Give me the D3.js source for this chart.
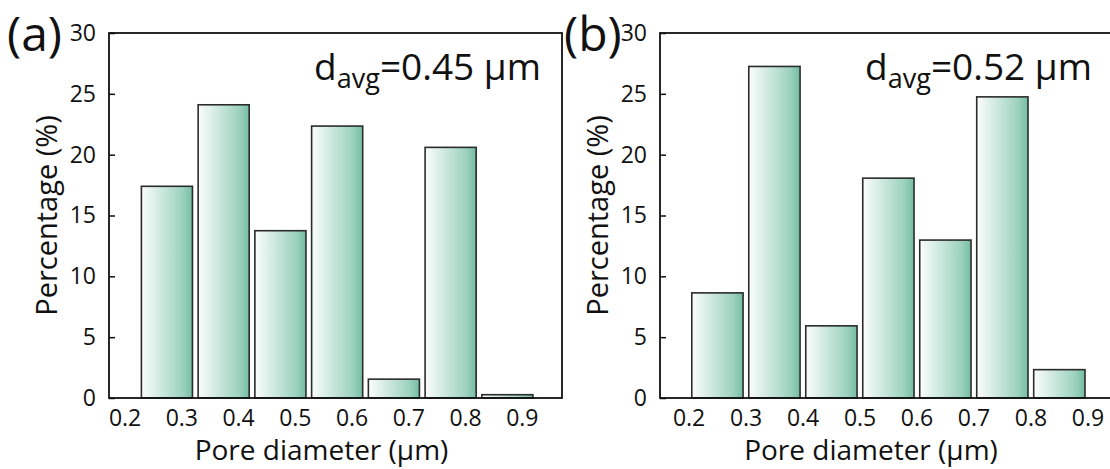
<!DOCTYPE html>
<html>
<head>
<meta charset="utf-8">
<script src="https://cdn.jsdelivr.net/npm/d3@7"></script>
<style>
  body { margin: 0; background: #fff; }
  svg { display: block; font-family: "Open Sans", "Noto Sans", sans-serif; }
</style>
</head>
<body>
<svg id="chart" width="1110" height="469"></svg>
<script>
// pore size histograms, two samples
var tickLabels = [0.2, 0.3, 0.4, 0.5, 0.6, 0.7, 0.8, 0.9];
var binStarts = [0.2, 0.3, 0.4, 0.5, 0.6, 0.7, 0.8];
var pctA = [17.4, 24.1, 13.75, 22.35, 1.55, 20.6, 0.27];
var pctB = [8.64, 27.25, 5.93, 18.07, 12.98, 24.75, 2.33];
var yTicks = [0, 5, 10, 15, 20, 25, 30];
var panelNames = ["(a)", "(b)"];
var avgValues = ["0.45", "0.52"];

var svg = d3.select("#chart");

var defs = svg.append("defs");
var grad = defs.append("linearGradient")
  .attr("id", "barfill")
  .attr("x1", "0%").attr("x2", "100%")
  .attr("y1", "0%").attr("y2", "0%");
grad.append("stop").attr("offset", "0%").attr("stop-color", "#fbfdfc");
grad.append("stop").attr("offset", "80%").attr("stop-color", "#9dd2bf");
grad.append("stop").attr("offset", "100%").attr("stop-color", "#74bda3");

var plotTop = 33, plotBottom = 398;

var y = d3.scaleLinear().domain([0, 30]).range([plotBottom, plotTop]);

// panel layout (pixels), kept apart from the data
var panels = [
  { name: panelNames[0], avg: avgValues[0], values: pctA,
    left: 109, right: 562, x02: 124.6, x09: 521.8, shift: 0.0296, nameX: 7 },
  { name: panelNames[1], avg: avgValues[1], values: pctB,
    left: 660, right: 1114, x02: 688.6, x09: 1087.5, shift: 0.0056, nameX: 564 }
];

panels.forEach(function(p) {
  var x = d3.scaleLinear().domain([0.2, 0.9]).range([p.x02, p.x09]);
  var g = svg.append("g");

  // bars
  g.selectAll("rect.bar")
    .data(binStarts.map(function(s, i) { return { s: s, v: p.values[i] }; }))
    .enter()
    .append("rect")
    .attr("class", "bar")
    .attr("x", function(d) { return x(d.s + p.shift); })
    .attr("width", function(d) { return x(d.s + p.shift + 0.09) - x(d.s + p.shift); })
    .attr("y", function(d) { return y(d.v); })
    .attr("height", function(d) { return y(0) - y(d.v); })
    .attr("fill", "url(#barfill)")
    .attr("stroke", "#2b2b2b")
    .attr("stroke-width", 1.6);

  // frame
  g.append("rect")
    .attr("x", p.left).attr("y", plotTop)
    .attr("width", p.right - p.left).attr("height", plotBottom - plotTop)
    .attr("fill", "none")
    .attr("stroke", "#111")
    .attr("stroke-width", 1.8);

  // y axis
  var ya = g.append("g")
    .attr("transform", "translate(" + p.left + ",0)")
    .call(d3.axisLeft(y).tickValues(yTicks).tickSize(-6).tickPadding(13).tickFormat(d3.format("d")));
  ya.select(".domain").remove();
  ya.selectAll("line").attr("stroke", "#111").attr("stroke-width", 1.5);
  ya.selectAll("text").attr("font-size", 23).attr("fill", "#111")
    .attr("font-family", "Open Sans");

  // x axis (labels only)
  var xa = g.append("g")
    .attr("transform", "translate(0," + plotBottom + ")")
    .call(d3.axisBottom(x).tickValues(tickLabels).tickSize(0).tickPadding(12).tickFormat(d3.format(".1f")));
  xa.select(".domain").remove();
  xa.selectAll("text").attr("font-size", 23).attr("fill", "#111")
    .attr("font-family", "Open Sans");

  // axis titles
  g.append("text")
    .attr("x", (p.left + Math.min(p.right, 1110)) / 2 - 14)
    .attr("y", 460)
    .attr("text-anchor", "middle")
    .attr("font-size", 28)
    .attr("fill", "#111")
    .text("Pore diameter (\u03bcm)");

  g.append("text")
    .attr("transform", "translate(" + (p.left - 52) + "," + ((plotTop + plotBottom) / 2) + ") rotate(-90)")
    .attr("text-anchor", "middle")
    .attr("font-size", 29)
    .attr("fill", "#111")
    .text("Percentage (%)");

  // panel letter
  g.append("text")
    .attr("x", p.nameX)
    .attr("y", 51)
    .attr("font-size", 48)
    .attr("fill", "#111")
    .text(p.name);

  // average annotation
  var t = g.append("text")
    .attr("x", p.left + 432)
    .attr("y", 80)
    .attr("text-anchor", "end")
    .attr("font-size", 37)
    .attr("fill", "#111");
  t.append("tspan").text("d");
  t.append("tspan").attr("font-size", 27).attr("dy", 8).text("avg");
  t.append("tspan").attr("dy", -8).text("=" + p.avg + " \u03bcm");
});
</script>
</body>
</html>
